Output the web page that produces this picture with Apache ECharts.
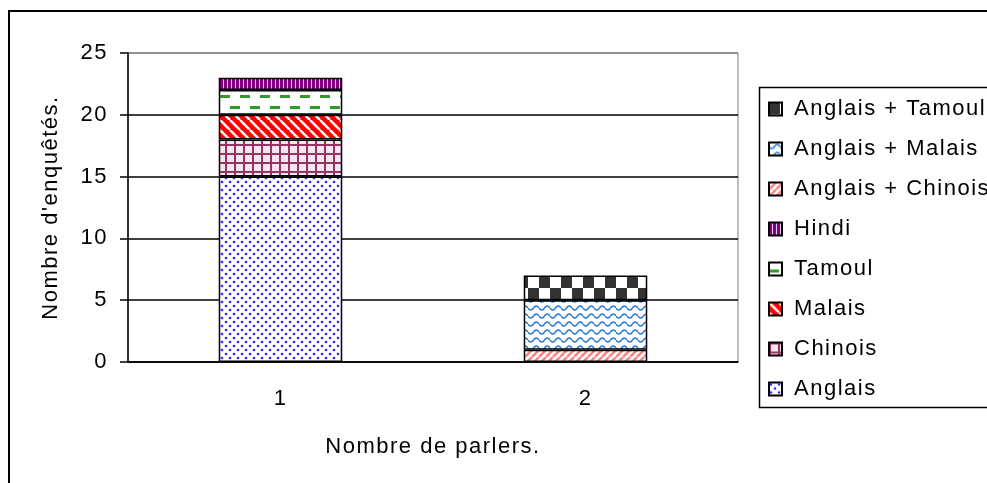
<!DOCTYPE html>
<html><head><meta charset="utf-8">
<script src="https://cdn.jsdelivr.net/npm/echarts@6/dist/echarts.min.js"></script>
<style>html,body{margin:0;padding:0;background:#fff;}#c{width:987px;height:483px;}</style>
</head><body><div id="c"></div>
<script>
const categories = ['1', '2'];
const anglais = [15, null];
const chinois = [3, null];
const malais = [2, null];
const tamoul = [2, null];
const hindi = [1, null];
const anglaisChinois = [null, 1];
const anglaisMalais = [null, 4];
const anglaisTamoul = [null, 2];
const legendOrder = ['Anglais + Tamoul','Anglais + Malais','Anglais + Chinois','Hindi','Tamoul','Malais','Chinois','Anglais'];

// the reference text is rendered slightly letter-spaced
(function () {
  const P = CanvasRenderingContext2D.prototype;
  const of = P.fillText;
  P.fillText = function (t, x, y, m) {
    const prev = this.letterSpacing;
    this.letterSpacing = '1.5px';
    if (m === undefined) of.call(this, t, x, y); else of.call(this, t, x, y, m);
    this.letterSpacing = prev;
  };
})();

function mk(w, h, draw) {
  const c = document.createElement('canvas');
  c.width = w; c.height = h;
  const g = c.getContext('2d');
  g.fillStyle = '#fff'; g.fillRect(0, 0, w, h);
  draw(g);
  return { image: c, repeat: 'repeat' };
}
const pat = {
  anglais: mk(8, 8, g => { g.fillStyle = '#2828ff';
    [[2,2],[6,6]].forEach(p => { g.beginPath(); g.arc(p[0], p[1], 1.3, 0, Math.PI*2); g.fill(); }); }),
  chinois: mk(9, 9, g => { g.fillStyle = '#f4e6ee'; g.fillRect(0,0,9,9); g.fillStyle = '#993366'; g.fillRect(0,0,2,9); g.fillRect(0,0,9,2); }),
  malais: mk(10, 10, g => { g.fillStyle = '#ff0000'; g.fillRect(0,0,10,10);
    g.strokeStyle = '#fff'; g.lineWidth = 2.5;
    for (let i = -1; i <= 1; i++) { g.beginPath(); g.moveTo(i*10, 0); g.lineTo(i*10+10, 10); g.stroke(); } }),
  tamoul: mk(20, 22, g => { g.fillStyle = '#2e9a2e'; g.fillRect(0,7,10,3); g.fillRect(10,18,10,3); }),
  hindi: mk(4, 4, g => { g.fillStyle = '#800080'; g.fillRect(0,0,3,4); g.fillStyle = '#e0c8e0'; g.fillRect(3,0,1,4); }),
  anglaisChinois: mk(7, 7, g => { g.strokeStyle = '#ff8080'; g.lineWidth = 2.5;
    for (let i = -1; i <= 1; i++) { g.beginPath(); g.moveTo(i*7, 7); g.lineTo(i*7+7, 0); g.stroke(); } }),
  anglaisMalais: mk(11, 8, g => { g.strokeStyle = '#2f7fd8'; g.lineWidth = 1.6; g.beginPath();
    for (let x = 0; x <= 11; x += 0.5) { const y = 4 + 2*Math.sin(2*Math.PI*x/11); if (x === 0) g.moveTo(x, y); else g.lineTo(x, y); } g.stroke(); }),
  anglaisTamoul: mk(22, 24, g => { g.fillStyle = '#333'; g.fillRect(0,0,11,12); g.fillRect(11,12,11,12); })
};

const FONT = '"Liberation Sans", Arial, sans-serif';
function s(name, data, color) {
  return { name, type: 'bar', stack: 'total', data, barWidth: '40.5%',
    itemStyle: { color, borderColor: '#000', borderWidth: 1.5 } };
}
const chart = echarts.init(document.getElementById('c'), null, { renderer: 'canvas' });
chart.setOption({
  animation: false,
  textStyle: { fontFamily: FONT },
  grid: { left: 128, top: 53, right: 249, bottom: 121, show: true, borderColor: '#808080', borderWidth: 1 },
  legend: {
    orient: 'vertical', left: 768, top: 98, padding: 0, itemGap: 18,
    itemWidth: 13, itemHeight: 13, icon: 'rect', data: legendOrder,
    textStyle: { fontSize: 22, lineHeight: 22, color: '#000', fontFamily: FONT, padding: [0,0,0,7] }
  },
  graphic: [
    { type: 'rect', shape: { x: 9, y: 11, width: 1200, height: 700 }, style: { fill: 'none', stroke: '#000', lineWidth: 2 }, silent: true },
    { type: 'rect', shape: { x: 759.5, y: 87.5, width: 400, height: 320 }, style: { fill: 'none', stroke: '#000', lineWidth: 1.5 }, silent: true }
  ],
  xAxis: {
    type: 'category', data: categories,
    name: 'Nombre de parlers.', nameLocation: 'middle', nameGap: 74,
    nameTextStyle: { fontSize: 22, color: '#000', fontFamily: FONT },
    axisLine: { lineStyle: { color: '#000', width: 1.5 } },
    axisTick: { length: 8, lineStyle: { color: '#000', width: 1.5 } },
    axisLabel: { fontSize: 22, color: '#000', margin: 26, fontFamily: FONT }
  },
  yAxis: {
    type: 'value', min: 0, max: 25, interval: 5,
    name: "Nombre d'enquêtés.", nameLocation: 'middle', nameGap: 66,
    nameTextStyle: { fontSize: 22, color: '#000', fontFamily: FONT },
    axisLine: { show: true, lineStyle: { color: '#000', width: 1.5 } },
    axisTick: { show: true, length: 8, lineStyle: { color: '#000', width: 1.5 } },
    axisLabel: { fontSize: 22, color: '#000', margin: 20, fontFamily: FONT },
    splitLine: { show: true, lineStyle: { color: ['#000','#000','#000','#000','#000','#808080'], width: 1.5 } }
  },
  series: [
    s('Anglais', anglais, pat.anglais),
    s('Chinois', chinois, pat.chinois),
    s('Malais', malais, pat.malais),
    s('Tamoul', tamoul, pat.tamoul),
    s('Hindi', hindi, pat.hindi),
    s('Anglais + Chinois', anglaisChinois, pat.anglaisChinois),
    s('Anglais + Malais', anglaisMalais, pat.anglaisMalais),
    s('Anglais + Tamoul', anglaisTamoul, pat.anglaisTamoul)
  ]
});
</script></body></html>
